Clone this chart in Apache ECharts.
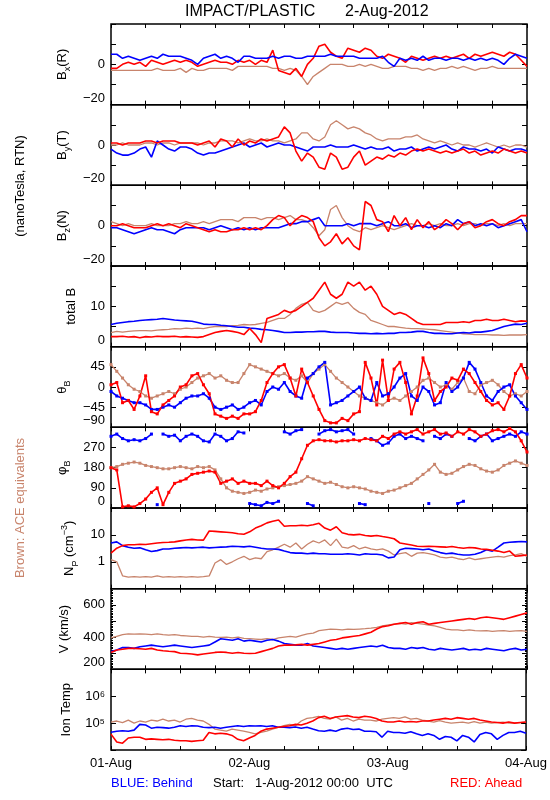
<!DOCTYPE html>
<html><head><meta charset="utf-8">
<script src="https://cdn.jsdelivr.net/npm/echarts@6/dist/echarts.min.js"></script>
<style>html,body{margin:0;padding:0;background:#fff}#c{width:550px;height:800px}</style>
</head><body><div id="c"></div>
<script>
// time axis: hours since 1-Aug-2012 00:00 UTC (hourly samples)
const hours = Array.from({length: 73}, (_, i) => i);
const dayLabels = {0: '01-Aug', 24: '02-Aug', 48: '03-Aug', 72: '04-Aug'};

// Bx (R)
const bxBlue = [5,5,3,4,3, 2,3,4,3,5, 4,4,4,3,2, 0,3,4,5,3, 4,3,1,4,4, 3,3,3,4,3, 4,4,3,3,4, 4,4,4,5,4, 4,4,4,3,3, 3,3,4,1,-1, 3,2,3,2,4, 2,3,3,2,3, 3,2,3,2,3, 2,3,2,0,3, 5,4,3];
const bxRed  = [-2,-2,0,1,0, 1,-1,2,1,0, 1,2,1,2,1, -1,0,1,2,1, 1,0,2,1,2, 0,2,1,7,-3, -4,-5,-2,-6,0, 3,9,10,6,4, 3,8,7,6,8, 7,4,3,5,4, 3,1,4,3,2, 3,4,3,4,3, 4,5,3,5,4, 5,6,5,4,6, 5,2,-1];
const bxAce  = [-3,-3,-3,-3,-3, -3,-3,-3,-2,-3, -3,-3,-2,-4,-2, -3,-3,-2,-2,-2, -2,-3,-1,-1,-1, -1,-1,-1,-2,-2, -3,-2,-3,-6,-10, -6,-4,-2,0,0, 0,-1,-1,0,-1, 0,-1,-2,-2,-1, -1,-1,-2,-2,-3, -2,-3,-2,-2,-1, -2,-1,-2,-3,-2, -2,-1,-2,-2,-2, -2,-2,-2];
// By (T)
const byBlue = [-2,-4,-5,-5,-4, -2,-1,-6,2,0, -2,-3,-1,-1,-2, -4,-5,-4,-4,-3, -2,-1,0,1,-1, 0,1,-1,0,1, 0,0,-1,-2,-3, -1,-1,-1,0,-1, -1,-1,0,-1,-2, -1,-2,-2,-1,-3, -2,-2,-1,-3,-2, -1,-2,-1,0,-2, -3,-1,-2,-2,-3, -2,-4,-1,-2,-3, -2,-2,-3];
const byRed  = [1,1,0,1,1, 1,2,2,1,2, 2,2,1,1,1, 0,1,2,-1,3, 2,-1,3,0,2, 1,3,2,3,4, 9,6,-3,-8,-4, -6,-11,-12,-4,-6, -12,-11,-6,-3,-10, -8,-6,-7,-5,-6, -4,-5,-3,-2,-3, -2,-3,-4,-3,-4, -3,-2,-4,-3,-5, -4,-3,-4,-2,-3, -4,-3,-4];
const byAce  = [0,0,1,0,0, 0,1,1,0,1, 1,0,1,1,1, 1,0,1,1,2, 2,2,1,2,3, 2,2,3,2,2, 1,2,3,6,6, 3,2,4,10,12, 10,8,9,8,6, 5,3,2,3,3, 3,4,4,5,3, 2,1,2,1,0, 1,0,0,-1,0, 1,0,-1,0,-1, 0,0,-1];
// Bz (N)
const bzBlue = [-1,-1,-2,-3,-4, -3,-2,-1,-2,-2, -3,-4,-2,-1,-1, -1,-1,-2,-1,0, -1,-2,-1,-2,-1, -2,-1,-1,-1,-1, 0,1,1,2,2, 3,4,0,0,0, 0,1,0,1,1, 1,0,1,2,0, 0,1,-1,0,0, -1,0,-1,1,0, 3,1,2,0,1, 0,1,-1,0,1, 2,3,-3];
const bzRed  = [0,0,1,0,-1, -1,-1,0,1,0, 1,0,-1,1,0, -1,-2,-3,-2,-3, -3,-2,-2,-1,-2, -1,-2,0,3,5, 4,0,3,5,4, 2,-6,-10,-8,-4, -9,-6,-10,-12,12, 10,3,2,-3,5, 0,4,-2,3,-1, 2,-2,0,3,1, -2,1,2,-1,0, 2,3,1,0,2, 3,5,5];
const bzAce  = [2,1,0,1,0, 0,0,1,0,0, 0,1,1,2,1, 1,2,1,2,3, 3,3,2,4,4, 4,3,4,4,3, 4,5,3,3,2, -1,-5,-2,8,10, 4,0,-2,-3,-1, -2,-1,0,-1,-2, -1,0,1,0,0, 1,0,1,0,0, 1,0,1,1,0, 1,1,0,1,0, 1,1,1];
// total B
const btBlue = [5.5,5.8,6,6.2,6.3, 6.5,6.6,6.7,6.8,7, 6.8,6.6,6.5,6.4,6.3, 6,5.6,5.5,5.5,5.3, 5.2,5,4.8,4.8,4.6, 4.5,4.3,4.2,4,3.8, 3.5,3.5,3.6,3.6,3.7, 3.7,3.8,3.8,3.6,3.5, 3.5,3.5,3.4,3.3,3.3, 3.2,3.3,3.2,3.3,3.3, 3.5,3.5,3.6,3.8,3.8, 3.5,3.3,3.3,3.2,3.2, 3.4,3.5,3.4,3.6,3.6, 3.8,4,4.5,5,5.3, 5.6,5.5,5.8];
const btRed  = [2.5,2.5,2.6,2.4,2.5, 2.2,2.5,2.4,2.6,2.5, 2.5,2.6,2.4,2.5,2.4, 2.3,2.5,3,3.5,3.8, 4,3.8,3.5,3,4.5, 3,1,7,7.5,8, 9,8.5,9,10,11, 12,14,16,13,12, 13,16,15,16,14, 15,13,10,9,8, 8.5,8,7,6,5.5, 5.5,5.5,5.5,6,6, 6,6.2,6,6.5,6.5, 6.8,6.5,6.5,6.8,6.5, 6.2,6.4,6.3];
const btAce  = [3.5,3.8,3.6,3.8,3.9, 4,4,3.9,4.1,4.2, 4.3,4.5,4.4,4.6,4.5, 4.6,4.5,4.8,5,5, 5,5.2,5.3,5.5,5.4, 5.5,5.8,6,6.5,7, 7,8,9.5,10.5,11, 9,8.5,9,10,11, 10.5,11,9.5,8.5,8, 6.5,6,5.5,5,5, 4.8,4.6,4.5,4.5,4.4, 4.3,4.2,4,3.8,3.6, 3.4,3.2,3.1,3,3, 3,2.9,2.9,2.8,2.9, 2.9,2.9,3];
// theta_B
const thBlue = [-10,-20,-25,-30,-35, -35,-40,-50,-50,-45, -40,-45,-35,-25,-20, -20,-15,-25,-45,-50, -45,-40,-50,-45,-35, -30,-40,-10,0,-5, 10,-10,-20,-25,20, 30,45,55,-40,-35, -30,-20,-10,0,-25, -30,10,-20,-15,0, 20,30,-20,-30,0, -10,-40,-35,10,-10, 0,20,55,40,10, -20,-30,-10,0,5, -20,-35,-50];
const thRed  = [5,10,-35,-30,-50, -20,25,-55,-60,-40, -30,-20,0,5,25, 30,5,-15,-60,-65, -70,-65,-70,-60,-60, -55,-30,10,30,45, 50,20,-20,40,10, -20,-50,-75,-80,-80, -70,-75,-60,-55,55, 20,-40,60,-30,40, 55,10,-60,-20,65, 30,-30,-10,0,20, 15,40,30,10,-10, -30,-40,-35,-50,-20, 30,50,20];
const thAce  = [50,35,20,5,-5, -10,-20,-25,-20,-15, -10,-15,-5,0,10, 20,25,30,20,25, 15,10,10,30,50, 45,40,35,30,25, 30,20,15,25,10, 30,40,50,35,20, 10,0,-10,-20,-25, -30,-35,-40,-30,-25, -30,-20,-10,0,15, 20,10,0,5,-5, 10,20,-10,-15,5, 10,15,5,-10,-20, -15,-20,-10];
// phi_B
const phBlue = [320,330,310,300,305, 300,310,330,15,330, 320,325,300,320,330, 320,300,295,330,320, 300,310,340,335,20, 15,10,25,20,30, 340,330,345,350,20, 10,330,345,350,340, 345,350,330,20,15, 310,300,280,290,320, 330,310,320,310,300, 20,320,310,330,320, 20,30,310,300,320, 330,300,310,320,330, 320,340,330];
const phRed  = [180,170,5,10,5, 20,40,70,90,15, 70,110,120,130,150, 155,160,165,160,110, 120,130,110,120,110, 110,100,120,100,90, 110,140,160,220,280, 300,305,300,300,295, 300,300,305,300,310, 305,300,320,310,330, 340,330,340,350,330, 340,350,330,335,320, 340,330,350,340,320, 330,345,350,340,355, 340,300,250];
const phAce  = [180,185,195,200,205, 200,190,185,180,175, 175,180,185,180,175, 185,180,185,170,130, 90,75,70,65,70, 80,75,85,90,95, 100,105,110,120,140, 130,120,110,115,105, 95,90,95,90,85, 75,70,65,75,80, 90,100,110,130,150, 170,195,160,150,155, 170,185,195,190,175, 165,160,170,190,200, 210,200,190];
// Np (cm^-3)
const npBlue = [5,5.5,4,3.5,3.2, 3.3,2.8,2.4,2.6,3, 3,3.2,3.3,3.4,3.3, 3.4,3.5,3.3,3.4,3.5, 3.6,3.8,3.7,3.6,3.8, 3.5,3.2,3,3,2.9, 2.5,2.2,2.1,2.1,2, 2.1,2,2,1.9,1.9, 1.9,2,1.9,1.8,2, 1.9,1.9,1.8,1.4,1.5, 2.8,3.2,3.1,3,2.8, 3,2.5,2.2,2,2.1, 1.9,1.8,1.8,1.9,2.2, 2.8,2.5,3.5,5,5.3, 5.5,5.7,5.5];
const npRed  = [2.1,3.2,4,4.3,4.3, 4.5,4.4,4.7,5,5.2, 5.3,5.5,6,6.5,6.8, 6.5,6.4,14,13.5,13, 12.5,12,11,10.6,13, 18,22,28,32,36, 21,22,22,23,22, 24,27,18,15,20, 12,10.5,10,10.5,9.5, 9,9.5,8.7,8,7.2, 5,4.6,4.2,3.8,3.7, 3.8,3.7,3.6,3.5,3.7, 3.4,3.2,3.4,3.3,3, 2.9,2.7,2.5,2.2,2.5, 1.6,1.7,1.8];
const npAce  = [1.2,1,0.3,0.27,0.28, 0.27,0.28,0.27,0.3,0.27, 0.28,0.27,0.28,0.27,0.28, 0.27,0.28,0.3,0.9,1.2, 0.8,1,1.3,1.6,1.2, 1.4,1.3,2.4,2.8,3.5, 4.5,3.5,5,3,4.5, 6,5,6.5,4,7, 3.5,3.2,4,3,3.5, 3,2.8,3,2.5,1.8, 2,2.2,1.6,2.1,2.2, 2,1.8,1.5,1.4,1.5, 1.3,1.2,1.4,1.2,1.3, 1.4,1.5,1.6,1.5,1.7, 1.8,2,1.6];
// V (km/s)
const vBlue = [310,320,335,335,330, 340,345,350,345,340, 345,350,345,340,335, 340,345,350,370,390, 385,380,390,375,380, 375,370,380,385,375, 360,355,350,350,360, 345,340,335,330,325, 330,325,330,335,340, 345,340,350,335,330, 330,325,335,330,335, 325,320,330,325,320, 325,330,320,325,320, 330,325,320,315,325, 330,320,325];
const vRed  = [305,320,325,330,330, 328,325,330,320,315, 312,310,300,298,295, 290,295,300,305,308, 305,300,305,300,298, 300,310,320,330,345, 350,350,352,355,350, 355,360,370,380,385, 395,400,405,410,420, 430,450,465,470,480, 485,490,480,490,495, 480,485,490,495,500, 505,510,515,510,520, 525,520,515,510,520, 530,540,550];
const vAce  = [395,405,415,420,418, 420,418,415,420,415, 412,415,410,408,405, 405,400,405,400,398, 400,395,400,392,390, 388,385,390,385,395, 400,405,400,410,420, 425,440,445,450,448, 445,450,448,450,452, 455,460,470,475,480, 485,480,490,485,480, 475,470,460,450,445, 445,440,445,440,438, 440,435,438,440,435, 438,440,436];
// Ion temperature (K)
const tBlue = [4.6e4,5e4,5.2e4,5e4,5.5e4, 9e4,8.5e4,6.5e4,7e4,6.8e4, 6.5e4,7e4,8e4,7.5e4,8e4, 7.8e4,7e4,6.8e4,7e4,6.5e4, 7e4,7.5e4,8e4,7.5e4,8e4, 7.8e4,8e4,7.5e4,8e4,7e4, 7e4,6.8e4,7.2e4,6.5e4,7e4, 6e4,5.2e4,5e4,5.5e4,5e4, 6e4,6.5e4,5.8e4,6e4,5e4, 5e4,4.8e4,3e4,5e4,4.5e4, 4.5e4,4.2e4,4.8e4,4e4,3.5e4, 4e4,3.5e4,2.5e4,3.2e4,3e4, 2.2e4,3.5e4,3e4,2e4,3.8e4, 4.5e4,4e4,2.5e4,3.5e4,4.5e4, 4.5e4,5e4,4.2e4];
const tRed  = [3.9e4,2e4,1.8e4,2.8e4,3e4, 3e4,2.5e4,2.6e4,2.5e4,2.4e4, 2.5e4,2.3e4,2.2e4,2.2e4,2.1e4, 2.2e4,2.3e4,4.5e4,4e4,4.2e4, 4e4,3.5e4,2.5e4,2.2e4,2.8e4, 3.5e4,5e4,6e4,6.5e4,7e4, 7.5e4,8e4,9e4,8.5e4,1e5, 1.2e5,1.6e5,1.8e5,1.5e5,1.7e5, 1.8e5,1.9e5,1.7e5,1.6e5,1.8e5, 1.7e5,1.5e5,1.2e5,1.1e5,1.1e5, 1.2e5,1.1e5,1.15e5,1.1e5,1.2e5, 1.2e5,1.3e5,1.4e5,1.5e5,1.4e5, 1.6e5,1.5e5,1.4e5,1.5e5,1.3e5, 1.2e5,1.1e5,1.05e5,1e5,1.1e5, 1e5,1.05e5,1.1e5];
const tAce  = [1.1e5,1.2e5,1.05e5,1.3e5,1e5, 1.2e5,1.1e5,1.3e5,1.2e5,1.4e5, 1.2e5,1.3e5,1.1e5,1.4e5,1.5e5, 1.3e5,1.2e5,9e4,6e4,5.5e4, 5e4,6e4,5.5e4,5e4,4.5e4, 4e4,4.5e4,5e4,6e4,7e4, 8e4,9e4,8e4,1.2e5,1.5e5, 1.6e5,1.8e5,1.5e5,1.4e5,1.7e5, 1.3e5,1.5e5,1.2e5,1.4e5,1.3e5, 1.3e5,1.2e5,1.4e5,1.5e5,1.6e5, 1.5e5,1.7e5,1.4e5,1.5e5,1.3e5, 1.2e5,1.1e5,1.25e5,1.1e5,1e5, 1.05e5,1.1e5,1e5,1.15e5,1e5, 1.1e5,1e5,1.05e5,1.1e5,1e5, 1e5,1.05e5,1.1e5];

const RED = '#ff0000', BLUE = '#0000ff', BROWN = '#c8846c';
const FONT = 'Liberation Sans, Arial, sans-serif';

const rich = {
  b: {fontSize: 13, lineHeight: 20, verticalAlign: 'middle', fontFamily: FONT, color: '#000'},
  s: {fontSize: 9, lineHeight: 12, verticalAlign: 'bottom', fontFamily: FONT, color: '#000'},
  p: {fontSize: 9, lineHeight: 12, verticalAlign: 'top', fontFamily: FONT, color: '#000'}
};

const panels = [
  {name: '{b|B}{s|x}{b|(R)}', gap: 38, min: -20, max: 20, interval: 10, show: [-20, 0], d: [bxAce, bxRed, bxBlue], c: [BROWN, RED, BLUE]},
  {name: '{b|B}{s|y}{b|(T)}', gap: 38, min: -20, max: 20, interval: 10, show: [-20, 0], d: [byAce, byBlue, byRed], c: [BROWN, BLUE, RED]},
  {name: '{b|B}{s|z}{b|(N)}', gap: 38, min: -20, max: 20, interval: 10, show: [-20, 0], d: [bzAce, bzBlue, bzRed], c: [BROWN, BLUE, RED]},
  {name: '{b|total B}', gap: 30, min: 0, max: 20, interval: 5, show: [0, 10], d: [btAce, btBlue, btRed], c: [BROWN, BLUE, RED]},
  {name: '{b|θ}{s|B}', gap: 36, min: -90, max: 90, interval: 45, show: [-90, -45, 0, 45], d: [thAce, thBlue, thRed], c: [BROWN, BLUE, RED], dots: true},
  {name: '{b|φ}{s|B}', gap: 33, min: 0, max: 360, interval: 90, show: [0, 90, 180, 270], d: [phAce, phBlue, phRed], c: [BROWN, BLUE, RED], wrap: true, dots: true},
  {name: '{b|N}{s|P}{b| (cm}{p|−3}{b|)}', gap: 29, min: 0.1, max: 100, log: true, show: [1, 10], d: [npAce, npBlue, npRed], c: [BROWN, BLUE, RED]},
  {name: '{b|V (km/s)}', gap: 37, min: 200, max: 700, interval: 100, show: [200, 400, 600], minor: true, d: [vAce, vBlue, vRed], c: [BROWN, BLUE, RED]},
  {name: '{b|Ion Temp}', gap: 35, min: 1e4, max: 1e7, log: true, show: [1e5, 1e6], sup: true, d: [tAce, tBlue, tRed], c: [BROWN, BLUE, RED]}
];

const TOP0 = 24, PH = 80.67, LEFT = 111, RIGHT = 23;
const grid = [], xAxis = [], yAxis = [], series = [];
const near = (a, b) => Math.abs(a - b) <= Math.abs(b) * 1e-6 + 1e-9;
const supMap = {5: '10⁵', 6: '10⁶'};

// build [t, v] pairs; for angles that wrap (phi), leave a gap at the 0/360 crossing
function toPairs(arr, wrap) {
  const out = [];
  arr.forEach((v, j) => {
    if (wrap && j > 0 && Math.abs(v - arr[j - 1]) > 180) out.push([hours[j] - 0.5, null]);
    out.push([hours[j], v]);
  });
  return out;
}

panels.forEach((p, i) => {
  grid.push({left: LEFT, right: RIGHT, top: TOP0 + PH * i, height: PH, show: true, borderColor: '#000', borderWidth: 1.5, backgroundColor: 'transparent'});
  const last = i === panels.length - 1;
  const xBase = {type: 'value', gridIndex: i, min: 0, max: 72, interval: 6, splitLine: {show: false},
    axisLine: {show: false, onZero: false}, axisTick: {show: true, inside: true, length: 4, lineStyle: {color: '#000', width: 1}}};
  xAxis.push(Object.assign({}, xBase, {position: 'bottom',
    axisLabel: {show: last, margin: 7, color: '#000', fontSize: 13, fontFamily: FONT,
      formatter: v => dayLabels[v] !== undefined ? dayLabels[v] : ''}}));
  xAxis.push(Object.assign({}, xBase, {position: 'top', axisLabel: {show: false}}));
  const yBase = {gridIndex: i, min: p.min, max: p.max, splitLine: {show: false}, axisLine: {show: false, onZero: false},
    axisTick: {show: true, inside: true, length: 5, lineStyle: {color: '#000', width: 1}}};
  if (p.log) { yBase.type = 'log'; yBase.logBase = 10; } else { yBase.type = 'value'; yBase.interval = p.interval; }
  if (p.minor) { yBase.minorTick = {show: true, splitNumber: 10, length: 2, lineStyle: {color: '#000'}}; }
  const fmt = v => {
    for (const s of p.show) {
      if (near(v, s)) {
        if (p.sup) return supMap[Math.round(Math.log10(s))];
        return String(s).replace('-', '−');
      }
    }
    return '';
  };
  yAxis.push(Object.assign({}, yBase, {position: 'left', name: p.name, nameLocation: 'middle', nameGap: p.gap, nameRotate: 90,
    nameTextStyle: {rich: rich},
    axisLabel: {show: true, margin: 6, color: '#000', fontSize: 13, fontFamily: FONT, formatter: fmt, verticalAlignMinLabel: 'bottom'}}));
  yAxis.push(Object.assign({}, yBase, {position: 'right', axisLabel: {show: false}}));
  p.d.forEach((arr, k) => {
    const isBrown = p.c[k] === BROWN;
    series.push({type: 'line', xAxisIndex: 2 * i, yAxisIndex: 2 * i, silent: true, animation: false,
      symbol: p.dots ? 'rect' : 'none', symbolSize: p.dots ? 3 : 0, showSymbol: !!p.dots, showAllSymbol: true,
      itemStyle: {color: p.c[k]},
      connectNulls: false,
      lineStyle: {color: p.c[k], width: isBrown ? 1.3 : 1.6},
      data: toPairs(arr, p.wrap)});
  });
});

const chart = echarts.init(document.getElementById('c'), null, {renderer: 'canvas'});
chart.setOption({
  backgroundColor: '#fff',
  animation: false,
  grid, xAxis, yAxis, series,
  graphic: [
    {type: 'text', x: 185, y: 12, style: {text: 'IMPACT/PLASTIC', fill: '#000', font: '16px ' + FONT, verticalAlign: 'middle'}},
    {type: 'text', x: 345, y: 12, style: {text: '2-Aug-2012', fill: '#000', font: '16px ' + FONT, verticalAlign: 'middle'}},
    {type: 'text', x: 20, y: 186, rotation: Math.PI / 2, style: {text: '(nanoTesla, RTN)', fill: '#000', font: '13px ' + FONT, align: 'center', verticalAlign: 'middle'}},
    {type: 'text', x: 20, y: 508, rotation: Math.PI / 2, style: {text: 'Brown: ACE equivalents', fill: BROWN, font: '13px ' + FONT, align: 'center', verticalAlign: 'middle'}},
    {type: 'text', x: 111, y: 783, style: {text: 'BLUE: Behind', fill: BLUE, font: '13px ' + FONT, verticalAlign: 'middle'}},
    {type: 'text', x: 213, y: 783, style: {text: 'Start:   1-Aug-2012 00:00  UTC', fill: '#000', font: '13px ' + FONT, verticalAlign: 'middle'}},
    {type: 'text', x: 450, y: 783, style: {text: 'RED: Ahead', fill: RED, font: '13px ' + FONT, verticalAlign: 'middle'}}
  ]
});
</script></body></html>
